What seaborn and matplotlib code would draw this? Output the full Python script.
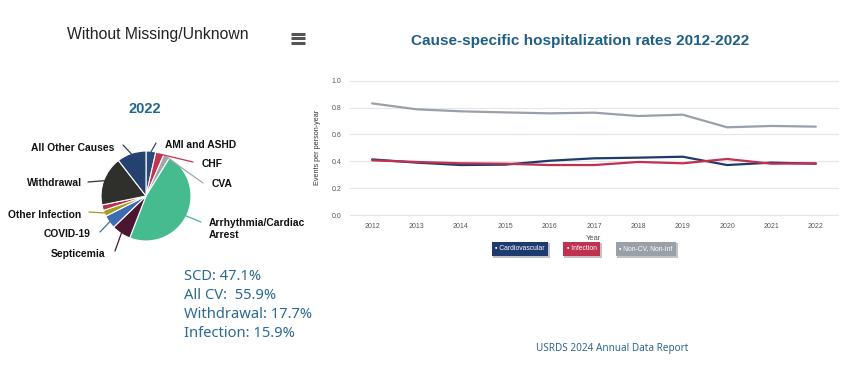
import numpy as np
import pandas as pd
import matplotlib
matplotlib.use("Agg")
import matplotlib.pyplot as plt
import matplotlib.patheffects as pe
from matplotlib.lines import Line2D
import seaborn as sns

# ---------------- data ----------------
years = [2012, 2013, 2014, 2015, 2016, 2017, 2018, 2019, 2020, 2021, 2022]
cardiovascular = [0.414, 0.390, 0.372, 0.375, 0.404, 0.422, 0.427, 0.434, 0.372, 0.390, 0.382]
infection = [0.407, 0.395, 0.385, 0.382, 0.372, 0.372, 0.395, 0.385, 0.417, 0.382, 0.385]
non_cv_non_inf = [0.831, 0.787, 0.772, 0.764, 0.757, 0.762, 0.737, 0.747, 0.653, 0.663, 0.658]
series_names = ["Cardiovascular", "Infection", "Non-CV, Non-Inf"]
series_colors = ["#1f3a6e", "#c0304f", "#9aa0a8"]
yticks = [0.0, 0.2, 0.4, 0.6, 0.8, 1.0]

pie_labels = ["AMI and ASHD", "CHF", "CVA", "Arrhythmia/Cardiac\nArrest", "Septicemia",
              "COVID-19", "Other Infection", "", "Withdrawal", "All Other Causes"]
pie_values = [3.5, 3.0, 2.3, 47.1, 6.9, 4.8, 2.2, 2.0, 17.7, 10.5]
pie_colors = ["#2b4a7c", "#c2344f", "#a3a7ad", "#45bb8f", "#4b1631",
              "#3e6cb2", "#a59c1c", "#b93150", "#2f302c", "#25416f"]
stats_lines = ["SCD: 47.1%", "All CV:  55.9%", "Withdrawal: 17.7%", "Infection: 15.9%"]

# ---------------- figure ----------------
W, H = 855, 372
sns.set_theme(style="white")
plt.rcParams["font.family"] = ["Liberation Sans", "DejaVu Sans"]
fig = plt.figure(figsize=(W / 100, H / 100), dpi=100)
fig.patch.set_facecolor("white")


def fp(x, y):
    return (x / W, 1 - y / H)


# header texts
fig.text(*fp(67, 35), "Without Missing/Unknown", fontsize=11.3, color="#222222",
         ha="left", va="center")
for yy in (33.5, 38, 42.5):
    fig.add_artist(Line2D([291 / W, 305 / W], [1 - yy / H, 1 - yy / H], color="#555555",
                          lw=2.2, transform=fig.transFigure, solid_capstyle="butt"))

fig.text(*fp(145, 109), "2022", fontsize=10.5, fontweight="bold", color="#1f6790",
         ha="center", va="center")

# ---------------- pie ----------------
cx, cy, R = 146, 196, 45
pax = fig.add_axes([(cx - R) / W, (H - cy - R) / H, 2 * R / W, 2 * R / H])
wedges, _ = pax.pie(pie_values, colors=pie_colors, startangle=90, counterclock=False,
                    wedgeprops=dict(edgecolor="white", linewidth=0.8), radius=1)
pax.set_xlim(-1, 1)
pax.set_ylim(-1, 1)
pax.set_aspect("equal")
pax.axis("off")

label_pos = {
    "AMI and ASHD": ((165, 145), "left", (156, 143)),
    "CHF": ((202, 164), "left", (193, 162)),
    "CVA": ((212, 184), "left", (203, 183)),
    "Arrhythmia/Cardiac\nArrest": ((209, 229), "left", (201, 222)),
    "Septicemia": ((51, 254), "left", (115, 251)),
    "COVID-19": ((44, 234), "left", (100, 232)),
    "Other Infection": ((8, 215), "left", (89, 212)),
    "Withdrawal": ((27, 183), "left", (88, 182)),
    "All Other Causes": ((31, 148), "left", (123, 145)),
}
for w, lab, col in zip(wedges, pie_labels, pie_colors):
    if not lab:
        continue
    ang = np.deg2rad((w.theta1 + w.theta2) / 2)
    x0, y0 = 0.98 * np.cos(ang), 0.98 * np.sin(ang)
    (tx, ty), ha, (lx, ly) = label_pos[lab]
    pax.annotate("", xy=(x0, y0), xycoords="data", xytext=fp(lx, ly),
                 textcoords="figure fraction",
                 arrowprops=dict(arrowstyle="-", color=col, lw=0.9,
                                 shrinkA=0, shrinkB=0), annotation_clip=False)
    fig.text(*fp(tx, ty), lab, fontsize=7.4, fontweight="bold", color="#111111",
             ha=ha, va="center", linespacing=1.35)

# stats text
for i, s in enumerate(stats_lines):
    fig.text(*fp(184, 276 + i * 19.3), s, fontsize=10.6, color="#2c6994",
             ha="left", va="center", family=["Noto Sans", "DejaVu Sans"])

# ---------------- line chart ----------------
fig.text(*fp(580, 41), "Cause-specific hospitalization rates 2012-2022", fontsize=11,
         fontweight="bold", color="#1f5f85", ha="center", va="center",
         family=["Liberation Sans", "DejaVu Sans"])

df = pd.DataFrame({
    "Year": [str(y) for y in years] * 3,
    "Rate": cardiovascular + infection + non_cv_non_inf,
    "Series": sum([[n] * len(years) for n in series_names], []),
})

left, right, top, bottom = 350, 838, 80.7, 215
ax = fig.add_axes([left / W, (H - bottom) / H, (right - left) / W, (bottom - top) / H])
sns.lineplot(data=df, x="Year", y="Rate", hue="Series", palette=series_colors,
             hue_order=series_names, linewidth=1.6, ax=ax, legend=False, sort=False)
ax.set_xlim(-0.5, len(years) - 0.5)
ax.set_ylim(0, 1.0)
ax.set_yticks(yticks)
ax.set_yticklabels([f"{v:.1f}" for v in yticks])
ax.tick_params(axis="both", length=0, labelsize=5, labelcolor="#555555", pad=6)
ax.yaxis.grid(True, color="#e6e6e6", lw=0.8)
for gl in ax.get_ygridlines():
    gl.set_clip_on(False)
ax.xaxis.grid(False)
for sp in ax.spines.values():
    sp.set_visible(False)
ax.axhline(0, color="#dddddd", lw=0.9, zorder=0)
ax.set_facecolor("none")
ax.set_xlabel("Year", fontsize=5.5, color="#555555", labelpad=3)
ax.set_ylabel("Events per person-year", fontsize=5.2, color="#333333", labelpad=8)

# custom legend boxes
leg_x = [520, 581.5, 646]
for name, col, lx in zip(series_names, series_colors, leg_x):
    t = fig.text(*fp(lx, 249), "\u25aa " + name, fontsize=4.9, color="white",
                 ha="center", va="center",
                 bbox=dict(boxstyle="square,pad=0.55", facecolor=col, edgecolor="none"))
    t.get_bbox_patch().set_path_effects([pe.SimplePatchShadow(offset=(1.2, -1.2),
                                                              shadow_rgbFace="#888888",
                                                              alpha=0.5), pe.Normal()])

fig.text(*fp(612, 348), "USRDS 2024 Annual Data Report", fontsize=7.2, color="#2f6690",
         ha="center", va="center", family=["Noto Sans", "DejaVu Sans"])

fig.savefig("out.png", dpi=100, facecolor="white")
